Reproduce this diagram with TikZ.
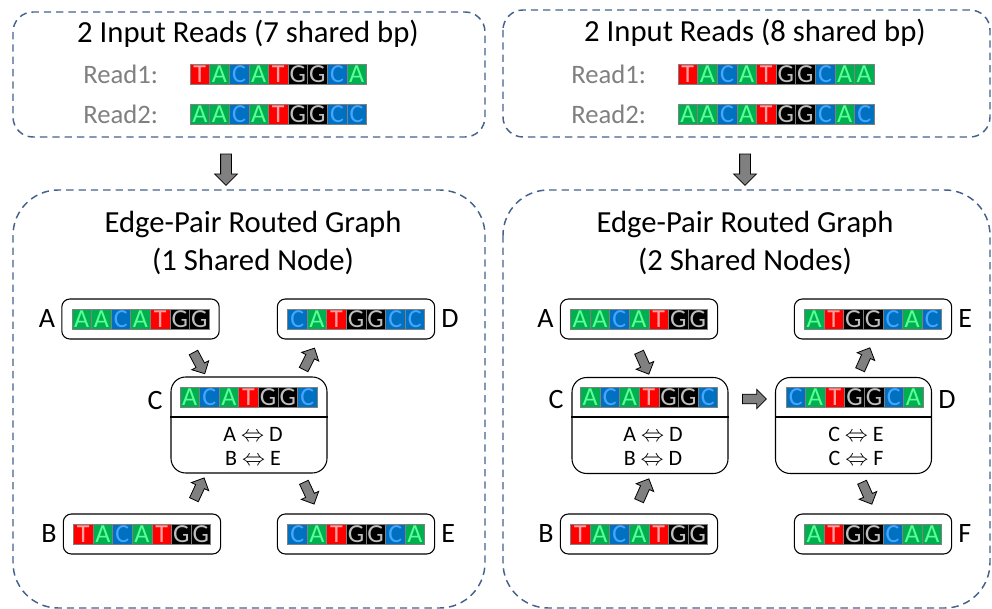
\documentclass[tikz,border=0pt]{standalone}
\usepackage{fontspec}
\setmainfont{Carlito}
\usepackage{tikz}
\usetikzlibrary{positioning,shapes.arrows}

\definecolor{grpblue}{RGB}{68,98,140}
\definecolor{fillT}{RGB}{255,0,0}
\definecolor{textT}{RGB}{255,160,160}
\definecolor{fillA}{RGB}{0,176,80}
\definecolor{textA}{RGB}{90,255,150}
\definecolor{fillC}{RGB}{0,112,192}
\definecolor{textC}{RGB}{70,165,255}
\definecolor{fillG}{RGB}{0,0,0}
\definecolor{textG}{RGB}{190,190,190}
\definecolor{readgray}{RGB}{128,128,128}
\definecolor{arrowgray}{RGB}{128,128,128}

\tikzset{
  group/.style={draw=grpblue, line width=1.1pt, dash pattern=on 5.5pt off 3.75pt},
  seqbox/.style={draw, rounded corners=6pt, line width=0.8pt, minimum width=118pt, minimum height=30pt, inner sep=0pt},
  hubbox/.style={seqbox, rounded corners=11pt, minimum width=117pt, minimum height=72pt},
  cell/.style={draw=readgray, line width=0.4pt, minimum width=14.7pt, minimum height=15pt, inner sep=0pt, font=\fontsize{19.5}{19.5}\selectfont},
  base/.style={fill=fill#1, text=text#1},
  title/.style={font=\fontsize{23}{29}\selectfont, align=center},
  readlbl/.style={font=\fontsize{20}{20}\selectfont, text=readgray, anchor=west, inner sep=0pt},
  nodelbl/.style={font=\fontsize{21}{21}\selectfont, inner sep=0pt},
  pairs/.style={font=\fontsize{16.5}{18}\selectfont, align=center},
  bigarrow/.style={single arrow, draw, fill=arrowgray, line width=0.6pt, inner sep=3.75pt, minimum height=23.5pt, single arrow head extend=4.5pt},
  smallarrow/.style={bigarrow, inner sep=3.3pt, minimum height=18pt, single arrow head extend=3.6pt},
}

% one read, cell by cell: name, x of first cell, y, bases
\newcommand{\dna}[4]{%
  \foreach \nt [count=\i] in {#4}
    \node[cell, base=\nt] (#1-\i) at ({#2+19.6*(\i-1)}, #3) {\nt};
}

\begin{document}
\begin{tikzpicture}[x=0.75pt, y=-0.75pt]
\useasboundingbox (0,0) rectangle (992,609);

% input reads
\draw[group, rounded corners=15pt] (13,12) rectangle (485,137);
\draw[group, rounded corners=15pt] (503,10) rectangle (990,137);
\node[title] (in1) at (248,34) {2 Input Reads (7 shared bp)};
\node[title] (in2) at (755,33) {2 Input Reads (8 shared bp)};

\node[readlbl] (r11) at (83,74) {Read1:};
\node[readlbl] (r12) at (83,114) {Read2:};
\dna{s11}{199.8}{74}{T,A,C,A,T,G,G,C,A}
\dna{s12}{199.8}{114}{A,A,C,A,T,G,G,C,C}

\node[readlbl] (r21) at (571,74) {Read1:};
\node[readlbl] (r22) at (571,114) {Read2:};
\dna{s21}{687.8}{74}{T,A,C,A,T,G,G,C,A,A}
\dna{s22}{687.8}{114}{A,A,C,A,T,G,G,C,A,C}

\node[bigarrow, rotate=-90] (dn1) at (226,167) {};
\node[bigarrow, rotate=-90] (dn2) at (745,167) {};

% routed graphs
\draw[group, rounded corners=34pt] (13,190) rectangle (485,608);
\draw[group, rounded corners=34pt] (503,190) rectangle (990,608);
\node[title] (g1) at (253,243) {Edge-Pair Routed Graph\\(1 Shared Node)};
\node[title] (g2) at (745,243) {Edge-Pair Routed Graph\\(2 Shared Nodes)};

% 1 shared node
\node[seqbox] (lA) at (140.5,319) {};
\node[seqbox] (lD) at (356,319) {};
\node[hubbox] (lC) at (249,425) {};
\node[seqbox] (lB) at (142,534) {};
\node[seqbox] (lE) at (356,534) {};
\dna{lA}{81.7}{319}{A,A,C,A,T,G,G}
\dna{lD}{297.2}{319}{C,A,T,G,G,C,C}
\dna{lC}{189.7}{397}{A,C,A,T,G,G,C}
\dna{lB}{83.2}{534}{T,A,C,A,T,G,G}
\dna{lE}{297.2}{534}{C,A,T,G,G,C,A}
\draw[line width=0.8pt] (lC.west |- 0,417) -- (lC.east |- 0,417);
\node[pairs] (lCp) at (253,446) {A $\Leftrightarrow$ D\\B $\Leftrightarrow$ E};

\node[nodelbl, left=4.5pt of lA] (lAl) {A};
\node[nodelbl, right=4.5pt of lD] (lDl) {D};
\node[nodelbl] (lCl) at (155,401) {C};
\node[nodelbl, left=4.5pt of lB] (lBl) {B};
\node[nodelbl, right=4.5pt of lE] (lEl) {E};

\node[smallarrow, rotate=-62] (lAC) at (198,361) {};
\node[smallarrow, rotate=63] (lCD) at (308,361) {};
\node[smallarrow, rotate=65] (lBC) at (198,491) {};
\node[smallarrow, rotate=-65] (lCE) at (308,491) {};

% 2 shared nodes
\node[seqbox] (rA) at (639,319) {};
\node[seqbox] (rE) at (873,319) {};
\node[hubbox] (rC) at (650,425.5) {};
\node[hubbox] (rD) at (853.5,425.5) {};
\node[seqbox] (rB) at (639,534) {};
\node[seqbox] (rF) at (873,534) {};
\dna{rA}{580.2}{319}{A,A,C,A,T,G,G}
\dna{rE}{814.2}{319}{A,T,G,G,C,A,C}
\dna{rC}{590.2}{397}{A,C,A,T,G,G,C}
\dna{rD}{795.7}{397}{C,A,T,G,G,C,A}
\dna{rB}{580.2}{534}{T,A,C,A,T,G,G}
\dna{rF}{814.2}{534}{A,T,G,G,C,A,A}
\draw[line width=0.8pt] (rC.west |- 0,417) -- (rC.east |- 0,417);
\draw[line width=0.8pt] (rD.west |- 0,417) -- (rD.east |- 0,417);
\node[pairs] (rCp) at (653,446) {A $\Leftrightarrow$ D\\B $\Leftrightarrow$ D};
\node[pairs] (rDp) at (856,446) {C $\Leftrightarrow$ E\\C $\Leftrightarrow$ F};

\node[nodelbl, left=4.5pt of rA] (rAl) {A};
\node[nodelbl, right=4.5pt of rE] (rEl) {E};
\node[nodelbl] (rCl) at (556,400) {C};
\node[nodelbl] (rDl) at (947,400) {D};
\node[nodelbl, left=4.5pt of rB] (rBl) {B};
\node[nodelbl, right=4.5pt of rF] (rFl) {F};

\node[smallarrow, rotate=-66] (rAC) at (643,361) {};
\node[smallarrow, rotate=0] (rCD) at (752,399) {};
\node[smallarrow, rotate=66] (rDE) at (864,361) {};
\node[smallarrow, rotate=66] (rBC) at (643,492) {};
\node[smallarrow, rotate=-66] (rDF) at (866,491) {};
\end{tikzpicture}
\end{document}
